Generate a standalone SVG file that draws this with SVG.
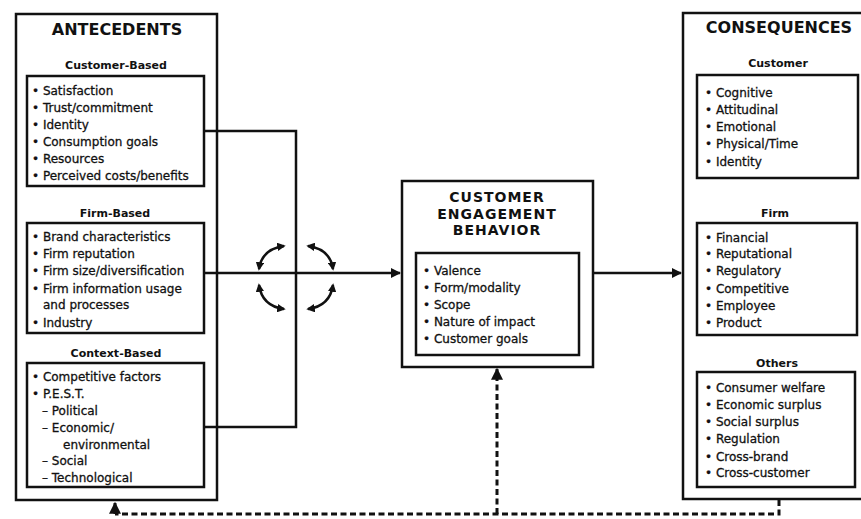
<svg xmlns="http://www.w3.org/2000/svg" width="861" height="519" viewBox="0 0 861 519">
<style>
  .box{fill:none;stroke:#111;stroke-width:2.5}
  .ln{fill:none;stroke:#111;stroke-width:2.5}
  .dash{fill:none;stroke:#111;stroke-width:3;stroke-dasharray:6 3.5}
  .t{font-family:"DejaVu Sans","Liberation Sans",sans-serif;font-size:12px;fill:#111;stroke:#111;stroke-width:0.3}
  .h{font-family:"DejaVu Sans","Liberation Sans",sans-serif;font-size:11px;font-weight:bold;fill:#111;text-anchor:middle}
  .big{font-family:"DejaVu Sans","Liberation Sans",sans-serif;font-size:16px;font-weight:bold;fill:#111;text-anchor:middle}
  .ceb{font-size:14px;letter-spacing:1px}
</style>
<defs>
  <marker id="ah" viewBox="0 0 10 10" refX="9" refY="5" markerWidth="4" markerHeight="4" orient="auto-start-reverse" markerUnits="strokeWidth">
    <path d="M0,0 L10,5 L0,10 z" fill="#111"/>
  </marker>
  <marker id="ahs" viewBox="0 0 10 10" refX="8" refY="5" markerWidth="3.4" markerHeight="3.4" orient="auto-start-reverse" markerUnits="strokeWidth">
    <path d="M0,0 L10,5 L0,10 z" fill="#111"/>
  </marker>
</defs>
<rect width="861" height="519" fill="#fff"/>

<g id="antecedents">
  <rect class="box" x="16" y="14" width="201" height="486"/>
  <text class="big" x="117" y="35">ANTECEDENTS</text>
</g>
<g id="customer-based">
  <text class="h" x="116" y="69">Customer-Based</text>
  <rect class="box" x="27" y="76" width="177" height="110"/>
  <text class="t" x="32" y="95">• Satisfaction</text>
  <text class="t" x="32" y="112">• Trust/commitment</text>
  <text class="t" x="32" y="129">• Identity</text>
  <text class="t" x="32" y="146">• Consumption goals</text>
  <text class="t" x="32" y="163">• Resources</text>
  <text class="t" x="32" y="180">• Perceived costs/benefits</text>
</g>
<g id="firm-based">
  <text class="h" x="115" y="217">Firm-Based</text>
  <rect class="box" x="27" y="223" width="177" height="110"/>
  <text class="t" x="32" y="241">• Brand characteristics</text>
  <text class="t" x="32" y="258">• Firm reputation</text>
  <text class="t" x="32" y="275">• Firm size/diversification</text>
  <text class="t" x="32" y="293">• Firm information usage</text>
  <text class="t" x="43" y="309">and processes</text>
  <text class="t" x="32" y="327">• Industry</text>
</g>
<g id="context-based">
  <text class="h" x="116" y="357">Context-Based</text>
  <rect class="box" x="27" y="363" width="177" height="124"/>
  <text class="t" x="32" y="381">• Competitive factors</text>
  <text class="t" x="32" y="398">• P.E.S.T.</text>
  <text class="t" x="42" y="415">– Political</text>
  <text class="t" x="42" y="432">– Economic/</text>
  <text class="t" x="63" y="449">environmental</text>
  <text class="t" x="42" y="465">– Social</text>
  <text class="t" x="42" y="482">– Technological</text>
</g>

<g id="ceb">
  <rect class="box" x="402" y="181" width="191" height="186"/>
  <text class="big ceb" x="497" y="202">CUSTOMER</text>
  <text class="big ceb" x="497" y="218.5">ENGAGEMENT</text>
  <text class="big ceb" x="497" y="235">BEHAVIOR</text>
  <rect class="box" x="416" y="253" width="163" height="102"/>
  <text class="t" x="423" y="275">• Valence</text>
  <text class="t" x="423" y="292">• Form/modality</text>
  <text class="t" x="423" y="309">• Scope</text>
  <text class="t" x="423" y="326">• Nature of impact</text>
  <text class="t" x="423" y="343">• Customer goals</text>
</g>

<g id="consequences">
  <rect class="box" x="683" y="13" width="184" height="486"/>
  <text class="big" x="779" y="33">CONSEQUENCES</text>
</g>
<g id="cons-customer">
  <text class="h" x="778" y="67">Customer</text>
  <rect class="box" x="697" y="75" width="161" height="103"/>
  <text class="t" x="705" y="97">• Cognitive</text>
  <text class="t" x="705" y="114">• Attitudinal</text>
  <text class="t" x="705" y="131">• Emotional</text>
  <text class="t" x="705" y="148">• Physical/Time</text>
  <text class="t" x="705" y="166">• Identity</text>
</g>
<g id="cons-firm">
  <text class="h" x="775" y="217">Firm</text>
  <rect class="box" x="697" y="223" width="160" height="112"/>
  <text class="t" x="705" y="242">• Financial</text>
  <text class="t" x="705" y="258">• Reputational</text>
  <text class="t" x="705" y="275">• Regulatory</text>
  <text class="t" x="705" y="293">• Competitive</text>
  <text class="t" x="705" y="310">• Employee</text>
  <text class="t" x="705" y="327">• Product</text>
</g>
<g id="cons-others">
  <text class="h" x="777" y="367">Others</text>
  <rect class="box" x="697" y="372" width="158" height="115"/>
  <text class="t" x="705" y="392">• Consumer welfare</text>
  <text class="t" x="705" y="409">• Economic surplus</text>
  <text class="t" x="705" y="426">• Social surplus</text>
  <text class="t" x="705" y="443">• Regulation</text>
  <text class="t" x="705" y="461">• Cross-brand</text>
  <text class="t" x="705" y="477">• Cross-customer</text>
</g>

<g id="connectors">
  <polyline class="ln" points="204,131 296,131 296,427 204,427"/>
  <line class="ln" x1="204" y1="273" x2="400" y2="273" marker-end="url(#ah)"/>
  <line class="ln" x1="593" y1="273" x2="681" y2="273" marker-end="url(#ah)"/>
  <path class="ln" d="M259,269 Q262,249 284,246" marker-start="url(#ahs)" marker-end="url(#ahs)"/>
  <path class="ln" d="M308,246 Q330,249 333,269" marker-start="url(#ahs)" marker-end="url(#ahs)"/>
  <path class="ln" d="M259,285 Q262,306 284,309" marker-start="url(#ahs)" marker-end="url(#ahs)"/>
  <path class="ln" d="M308,309 Q330,306 333,285" marker-start="url(#ahs)" marker-end="url(#ahs)"/>
  <path class="dash" d="M779,500 L779,514 L115,514"/>
  <line class="ln" x1="115" y1="514" x2="115" y2="503" style="stroke-width:3" marker-end="url(#ah)"/>
  <line class="dash" x1="497" y1="514" x2="497" y2="369" marker-end="url(#ah)"/>
</g>
</svg>
